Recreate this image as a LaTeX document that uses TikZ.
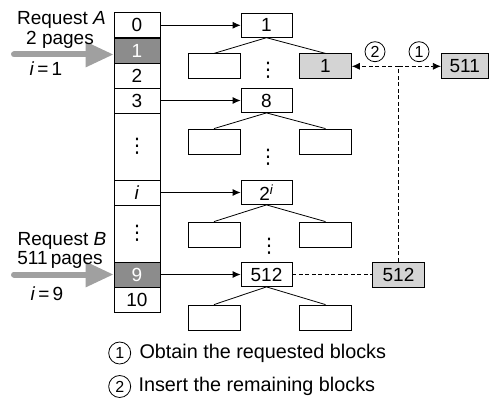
\documentclass[tikz,border=0pt]{standalone}
\usepackage{fontspec}
\setmainfont{Liberation Sans}
\newfontfamily\symfont{DejaVu Sans}
\usetikzlibrary{arrows.meta, positioning, calc}
\definecolor{cellgray}{HTML}{8C8C8C}
\definecolor{blockgray}{HTML}{D4D4D4}
\definecolor{reqgray}{HTML}{A0A0A0}
\newcommand{\numsize}{\fontsize{19}{21}\selectfont}
\newcommand{\labsize}{\fontsize{19}{21}\selectfont}
\newcommand{\legsize}{\fontsize{19.8}{22}\selectfont}
\newcommand{\circsize}{\fontsize{16}{18}\selectfont}
\newcommand{\vdts}{{\symfont\fontsize{20}{22}\selectfont ⋮}}
\tikzset{
%     array
    cell/.style = {draw, minimum width = 46pt, minimum height = #1, inner sep = 0pt, font = \numsize},
    cell/.default = 25pt,
%     trees
    root/.style = {draw, fill = white, minimum width = 51pt, minimum height = 24pt, inner sep = 0pt, font = \numsize},
    leaf/.style = {draw, minimum width = 52pt, minimum height = 25pt, inner sep = 0pt, font = \numsize},
    free/.style = {leaf, fill = blockgray},
    link/.style = {-{Latex[length=8pt, width=7pt]}},
    split/.style = {line width = 0.7pt, dash pattern = on 4pt off 2.5pt},
    reqarrow/.style = {reqgray, line width = 6pt, line cap = round, -{Triangle[length=28pt, width=24pt]}},
    num/.style = {draw, circle, minimum size = 20pt, inner sep = 0pt, font = \circsize},
    lab/.style = {font = \labsize, inner sep = 0pt, anchor = base},
    dots/.style = {inner sep = 0pt},
}

\begin{document}
\begin{tikzpicture}[x=1pt, y=-1pt, line width=0.8pt]
        \useasboundingbox (0,0) rectangle (490,401);
        % Array
        \node (c0) [cell] at (137,25.3) {0};
        \node (c1) [cell, fill=cellgray, text=white] at (137,50.5) {1};
        \node (c2) [cell] at (137,75.5) {2};
        \node (c3) [cell] at (137,100.5) {3};
        \node (cd1) [cell=67pt] at (137,146.5) {\vdts};
        \node (ci) [cell] at (137,192.5) {\textit{i}};
        \node (cd2) [cell=57pt] at (137,233.5) {\vdts};
        \node (c9) [cell, fill=cellgray, text=white] at (137,274.5) {9};
        \node (c10) [cell] at (137,299.5) {10};
        % Requests
        \coordinate (ra) at (14,54.5);
        \coordinate (rb) at (14,274.5);
        \draw[reqarrow] (ra) -- (ra -| c1.west);
        \draw[reqarrow] (rb) -- (c9.west);
        \node (reqa) [lab] at (61.5,24.7) {Request \textit{A}};
        \node (pga) [lab] at (60,44.7) {2 pages};
        \node (ia) [lab] at (46,76) {\textit{i}\,=\,1};
        \node (reqb) [lab] at (62,245) {Request \textit{B}};
        \node (pgb) [lab] at (60,264) {511\,pages};
        \node (ib) [lab] at (47,300) {\textit{i}\,=\,9};
        % Trees
        \node (r1) [root] at (266.5,25.3) {1};
        \node (r1l) [leaf] at ($(r1)+(-52.5,41)$) {};
        \node (r1r) [free] at ($(r1)+(59,41)$) {1};
        \node (r2) [root] at (266.5,100.5) {8};
        \node (r2l) [leaf] at ($(r2)+(-52.5,41)$) {};
        \node (r2r) [leaf] at ($(r2)+(59,41)$) {};
        \node (r3) [root] at (266.5,192.5) {2\textsuperscript{\textit{i}}};
        \node (r3l) [leaf] at ($(r3)+(-52.5,42)$) {};
        \node (r3r) [leaf] at ($(r3)+(59,42)$) {};
        \node (r4) [root] at (266.5,274.5) {512};
        \node (r4l) [leaf] at ($(r4)+(-52.5,43)$) {};
        \node (r4r) [leaf] at ($(r4)+(59,43)$) {};
        \node (d1) [dots] at (268,70) {\vdts};
        \node (d2) [dots] at (268,157) {\vdts};
        \node (d3) [dots] at (269,246) {\vdts};
        % links
        \draw[link] (c0.east) -- (r1.west);
        \draw[link] (c3.east) -- (r2.west);
        \draw[link] (ci.east) -- (r3.west);
        \draw[link] (c9.east) -- (r4.west);
        \draw (r1.south) -- (r1l.north);
        \draw (r1.south) -- (r1r.north);
        \draw (r2.south) -- (r2l.north);
        \draw (r2.south) -- (r2r.north);
        \draw (r3.south) -- (r3l.north);
        \draw (r3.south) -- (r3r.north);
        \draw (r4.south) -- (r4l.north);
        \draw (r4.south) -- (r4r.north);
        % Split of block 512
        \node (g512) [free] at (398.5,274.5) {512};
        \node (g511) [free, minimum width=47pt, right=89pt of r1r] {511};
        \coordinate (fork) at (g512.north |- r1r.east);
        \draw[split] (r4.east) -- (g512.west);
        \draw[split] (g512.north) -- (fork);
        \draw[split, link] (fork) -- (r1r.east);
        \draw[split, link] (fork) -- (g511.west);
        \node (s2) [num] at (375,51.7) {2};
        \node (s1) [num] at (419,51.7) {1};
        % Legend
        \node (k1) [num, minimum size=22pt] at (119.7,353) {1};
        \node (k1t) [right=8pt of k1, inner sep=0pt, font=\legsize] {Obtain the requested blocks};
        \node (k2) [num, minimum size=22pt] at (119.7,386.5) {2};
        \node (k2t) [right=7pt of k2, inner sep=0pt, font=\legsize] {Insert the remaining blocks};
    \end{tikzpicture}
\end{document}
